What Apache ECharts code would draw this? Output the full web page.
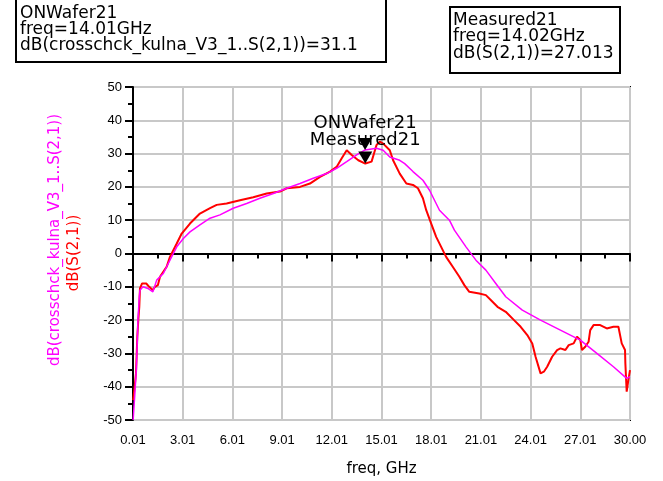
<!DOCTYPE html>
<html>
<head>
<meta charset="utf-8">
<script src="https://cdn.jsdelivr.net/npm/echarts@6/dist/echarts.min.js"></script>
<style>
  html, body { margin: 0; padding: 0; background: #fff; }
  #chart { width: 663px; height: 481px; }
</style>
</head>
<body>
<div id="chart"></div>
<script>
// 刻度
const xTicks = [0, 3, 6, 9, 12, 15, 18, 21, 24, 27, 30]
const yTicks = [-50, -40, -30, -20, -10, 0, 10, 20, 30, 40, 50]

// ONWafer21 仿真曲线 (freq GHz, dB)
const onWaferFreq = [0.01, 0.1, 0.2, 0.3, 0.38, 0.42, 0.6, 0.9, 1.2, 1.43, 1.83, 2.23, 2.64, 3.04, 3.44, 4.04, 4.65, 5.25, 6.05, 6.86, 7.66, 8.47, 9.28, 10.08, 10.88, 11.69, 12.29, 12.9, 13.5, 14.01, 14.7, 15.1, 15.5, 16.1, 16.4, 16.9, 17.5, 17.9, 18.5, 19.1, 19.4, 20.1, 20.7, 21.3, 21.9, 22.5, 23.5, 24.6, 25.8, 27.0, 28.0, 29.0, 29.8, 30.0]
const onWaferDb = [-50, -43, -35, -20, -13, -11, -10, -10.5, -11.5, -8, -6, -2, 2, 4.5, 6.5, 8.6, 10.6, 11.6, 13.6, 15, 16.6, 18, 19.6, 21, 22.6, 24, 25.6, 27.6, 29.6, 31.1, 31.6, 31, 29, 28, 27, 24.6, 22, 19, 13, 10, 7, 2, -2, -5, -9, -13, -17, -20, -23, -26, -30, -34, -37.5, -37]

// Measured21 测量曲线
const measuredFreq = [0.01, 0.1, 0.18, 0.26, 0.32, 0.38, 0.42, 0.55, 0.8, 0.98, 1.19, 1.33, 1.5, 1.63, 2.03, 2.23, 2.64, 2.94, 3.44, 4.04, 4.65, 5.05, 5.65, 6.46, 7.26, 8.07, 8.87, 9.28, 10.08, 10.68, 11.29, 11.89, 12.29, 12.6, 12.9, 13.2, 13.6, 14.02, 14.4, 14.7, 14.9, 15.1, 15.5, 15.7, 16.1, 16.5, 16.9, 17.2, 17.5, 17.7, 18.0, 18.3, 18.6, 18.9, 19.3, 19.7, 20.0, 20.3, 20.9, 21.3, 21.7, 22.0, 22.5, 23.0, 23.4, 23.8, 24.1, 24.3, 24.6, 24.8, 25.0, 25.3, 25.6, 25.8, 26.1, 26.3, 26.6, 26.8, 27.0, 27.1, 27.3, 27.5, 27.6, 27.8, 28.2, 28.6, 29.0, 29.3, 29.5, 29.7, 29.72, 29.8, 29.9, 30.0]
const measuredDb = [-44, -40, -36, -25, -20, -16, -10.5, -9, -9, -10, -11, -10, -9.5, -7, -4, -1, 3, 6, 9, 12, 13.6, 14.6, 15, 16, 16.9, 18, 18.6, 19.6, 20, 21, 23, 24.6, 26, 28.6, 31, 29.6, 28, 27.013, 27.6, 32.6, 33.6, 33, 31, 28, 24, 21, 20.6, 19.6, 16.6, 13, 9, 5, 2, -1, -4, -7, -9.5, -11.5, -12, -12.5, -14.5, -16, -17.5, -20, -22, -24.5, -27, -31, -36, -35.5, -34, -31, -29, -28.5, -29, -27.5, -27, -25, -26, -29, -28, -26.5, -23, -21.5, -21.5, -22.5, -22, -22, -27, -29, -33, -41.5, -38, -35]

// 标记
const markerNames = ['ONWafer21', 'Measured21']
const markerFreq = [14.01, 14.02]
const markerDb = [31.1, 27.013]

const boxFont = '17px "DejaVu Sans"'

const chart = echarts.init(document.getElementById('chart'), null, { renderer: 'canvas' })

const zip = (xs, ys) => xs.map((x, i) => [x, ys[i]])

const markerPoint = (i) => ({
  symbol: 'triangle',
  symbolRotate: 180,
  symbolSize: [14, 12],
  symbolOffset: [0, -6],
  itemStyle: { color: '#000' },
  label: {
    show: true,
    position: 'top',
    distance: i === 0 ? 6 : 2,
    formatter: markerNames[i],
    color: '#000',
    fontFamily: 'DejaVu Sans',
    fontSize: 18
  },
  data: [{ coord: [markerFreq[i], markerDb[i]] }]
})

const option = {
  animation: false,
  backgroundColor: '#fff',
  grid: {
    left: 133,
    right: 33,
    top: 87,
    bottom: 61,
    show: true,
    borderColor: '#000',
    borderWidth: 2,
    outerBoundsMode: 'none'
  },
  xAxis: {
    type: 'value',
    min: xTicks[0],
    max: xTicks[xTicks.length - 1],
    interval: 3,
    name: 'freq, GHz',
    nameLocation: 'middle',
    nameGap: 42,
    nameTextStyle: { color: '#000', fontFamily: 'DejaVu Sans', fontSize: 15 },
    axisLine: { lineStyle: { color: '#000', width: 2 } },
    axisTick: { show: true, length: 8, lineStyle: { color: '#000', width: 2 } },
    minorTick: { show: true, splitNumber: 2, length: 5, lineStyle: { color: '#000', width: 2 } },
    axisLabel: {
      margin: 14,
      color: '#000',
      fontFamily: 'Liberation Sans',
      fontSize: 13,
      showMaxLabel: true,
      formatter: v => v === 30 ? '30.00' : (v + 0.01).toFixed(2)
    },
    splitLine: { show: true, lineStyle: { color: '#c8c8c8', width: 2 } }
  },
  yAxis: {
    type: 'value',
    min: yTicks[0],
    max: yTicks[yTicks.length - 1],
    interval: 10,
    axisLine: { show: true, lineStyle: { color: '#000', width: 2 } },
    axisTick: { show: true, length: 8, lineStyle: { color: '#000', width: 2 } },
    minorTick: { show: true, splitNumber: 2, length: 5, lineStyle: { color: '#000', width: 2 } },
    axisLabel: {
      margin: 11,
      color: '#000',
      fontFamily: 'Liberation Sans',
      fontSize: 13
    },
    splitLine: { show: true, lineStyle: { color: '#c8c8c8', width: 2 } }
  },
  series: [
    {
      name: 'ONWafer21',
      type: 'line',
      data: zip(onWaferFreq, onWaferDb),
      showSymbol: false,
      lineStyle: { color: '#ff00ff', width: 1.5 },
      markPoint: markerPoint(0),
      z: 3
    },
    {
      name: 'Measured21',
      type: 'line',
      data: zip(measuredFreq, measuredDb),
      showSymbol: false,
      lineStyle: { color: '#ff0000', width: 2 },
      markPoint: markerPoint(1),
      z: 2
    }
  ],
  graphic: [
    // 纵轴标题
    {
      type: 'text',
      x: 55, y: 240, rotation: Math.PI / 2,
      style: { text: 'dB(crosschck_kulna_V3_1..S(2,1))', fill: '#ff00ff', font: '15px "DejaVu Sans"', align: 'center', verticalAlign: 'middle' }
    },
    {
      type: 'text',
      x: 74, y: 253, rotation: Math.PI / 2,
      style: { text: 'dB(S(2,1))', fill: '#ff0000', font: '15px "DejaVu Sans"', align: 'center', verticalAlign: 'middle' }
    },
    // 标记信息框
    {
      type: 'rect',
      shape: { x: 16, y: -2, width: 370, height: 64 },
      style: { fill: 'none', stroke: '#000', lineWidth: 2 }
    },
    {
      type: 'text',
      x: 20, y: 6,
      style: {
        text: markerNames[0] + '\nfreq=' + markerFreq[0].toFixed(2) + 'GHz\ndB(crosschck_kulna_V3_1..S(2,1))=' + markerDb[0],
        fill: '#000', font: boxFont, lineHeight: 16, verticalAlign: 'top',
        width: 364, overflow: 'truncate', ellipsis: ''
      }
    },
    {
      type: 'rect',
      shape: { x: 450, y: 7, width: 170, height: 66 },
      style: { fill: 'none', stroke: '#000', lineWidth: 2 }
    },
    {
      type: 'text',
      x: 453, y: 12,
      style: {
        text: markerNames[1] + '\nfreq=' + markerFreq[1].toFixed(2) + 'GHz\ndB(S(2,1))=' + markerDb[1].toFixed(3),
        fill: '#000', font: boxFont, lineHeight: 16.5, verticalAlign: 'top',
        width: 166, overflow: 'truncate', ellipsis: ''
      }
    }
  ]
}

chart.setOption(option)

window.addEventListener('resize', () => chart.resize())
</script>
</body>
</html>
